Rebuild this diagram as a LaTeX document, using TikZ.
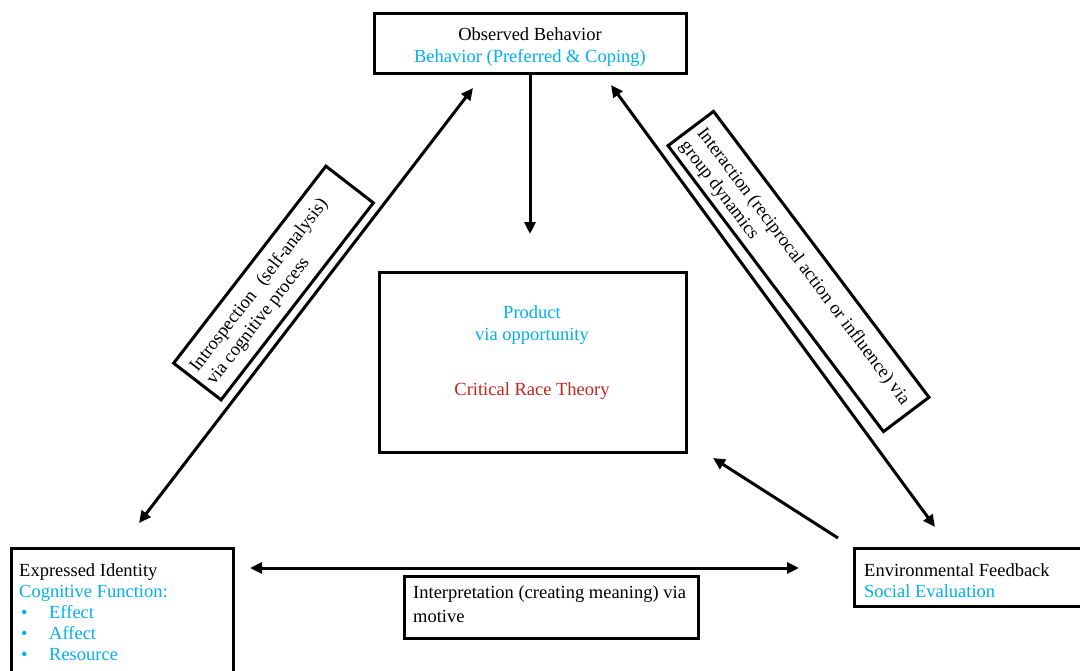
\documentclass[tikz,border=0pt]{standalone}
\usepackage{fontspec}
\setmainfont{Liberation Serif}
\usetikzlibrary{arrows.meta}
\definecolor{cblue}{RGB}{0,176,240}
\definecolor{cred}{RGB}{192,38,28}
\begin{document}
\begin{tikzpicture}[x=1pt,y=-1pt,
  box/.style={draw, line width=3pt, inner sep=0pt},
  conn/.style={line width=3pt, -{Triangle[length=12pt,width=11pt]}},
  dconn/.style={line width=3pt, {Triangle[length=12pt,width=11pt]}-{Triangle[length=12pt,width=11pt]}},
  txt/.style={font=\fontsize{18.5}{21.2}\selectfont, inner sep=0pt}]
\useasboundingbox (0,0) rectangle (1080,670);
\clip (0,0) rectangle (1080,670);
\fill[white] (0,0) rectangle (1080,670);

% top box
\node[box, minimum width=312pt, minimum height=60pt] (obs) at (530,43) {};
\node[txt, align=center] (obstxt) at (530,47) {Observed Behavior\\\textcolor{cblue}{Behavior (Preferred \& Coping)}};

% center box
\node[box, minimum width=307pt, minimum height=180pt] (prod) at (532.5,362) {};
\node[txt, align=center, text=cblue] (prodtxt) at (532,325) {Product\\via opportunity};
\node[txt, text=cred] (crt) at (532,391) {Critical Race Theory};

% bottom-left box
\node[box, minimum width=222pt, minimum height=142pt] (expid) at (122,619) {};
\node[txt, align=left, anchor=north west] (expidtxt) at (19,563) {Expressed Identity\\
\textcolor{cblue}{Cognitive Function:}\\
\textcolor{cblue}{\hspace*{2pt}\makebox[28pt][l]{•}Effect}\\
\textcolor{cblue}{\hspace*{2pt}\makebox[28pt][l]{•}Affect}\\
\textcolor{cblue}{\hspace*{2pt}\makebox[28pt][l]{•}Resource}};

% bottom-right box
\node[box, minimum width=236pt, minimum height=58pt] (envfb) at (972,577) {};
\node[txt, align=left, anchor=north west] (envtxt) at (864,563) {Environmental Feedback\\\textcolor{cblue}{Social Evaluation}};

% bottom label box
\node[box, minimum width=294pt, minimum height=62pt] (interp) at (551,607) {};
\node[txt, font=\fontsize{18.5}{24}\selectfont, align=left, anchor=north west] (interptxt) at (413,585.5) {Interpretation (creating meaning) via\\motive};

% left rotated label box
\node[box, rotate=52.3, minimum width=249pt, minimum height=60pt] (intro) at (273.5,283) {};
\node[txt, rotate=52.3, align=left, anchor=west] (introtxt) at (202.3,376.8) {Introspection\hspace{0.6em}(self-analysis)\\via cognitive process};

% right rotated label box
\node[box, rotate=-53, minimum width=358pt, minimum height=57pt] (inter) at (798.5,271.5) {};
\node[txt, rotate=-53, align=left, anchor=west] (intertxt) at (691.6,136.5) {Interaction (reciprocal action or influence) via\\group dynamics};

% connectors
\coordinate (vtip) at (530,234);
\coordinate (la1) at (473,88);
\coordinate (la2) at (139,523);
\coordinate (ra1) at (611,85);
\coordinate (ra2) at (935,527);
\coordinate (sa1) at (838,538);
\coordinate (sa2) at (713,458);
\coordinate (ha1) at (250,568);
\coordinate (ha2) at (799,568);

\draw[conn] (obs.south) -- (vtip);
\draw[dconn] (la1) -- (la2);
\draw[dconn] (ra1) -- (ra2);
\draw[conn] (sa1) -- (sa2);
\draw[dconn] (ha1) -- (ha2);
\end{tikzpicture}
\end{document}
